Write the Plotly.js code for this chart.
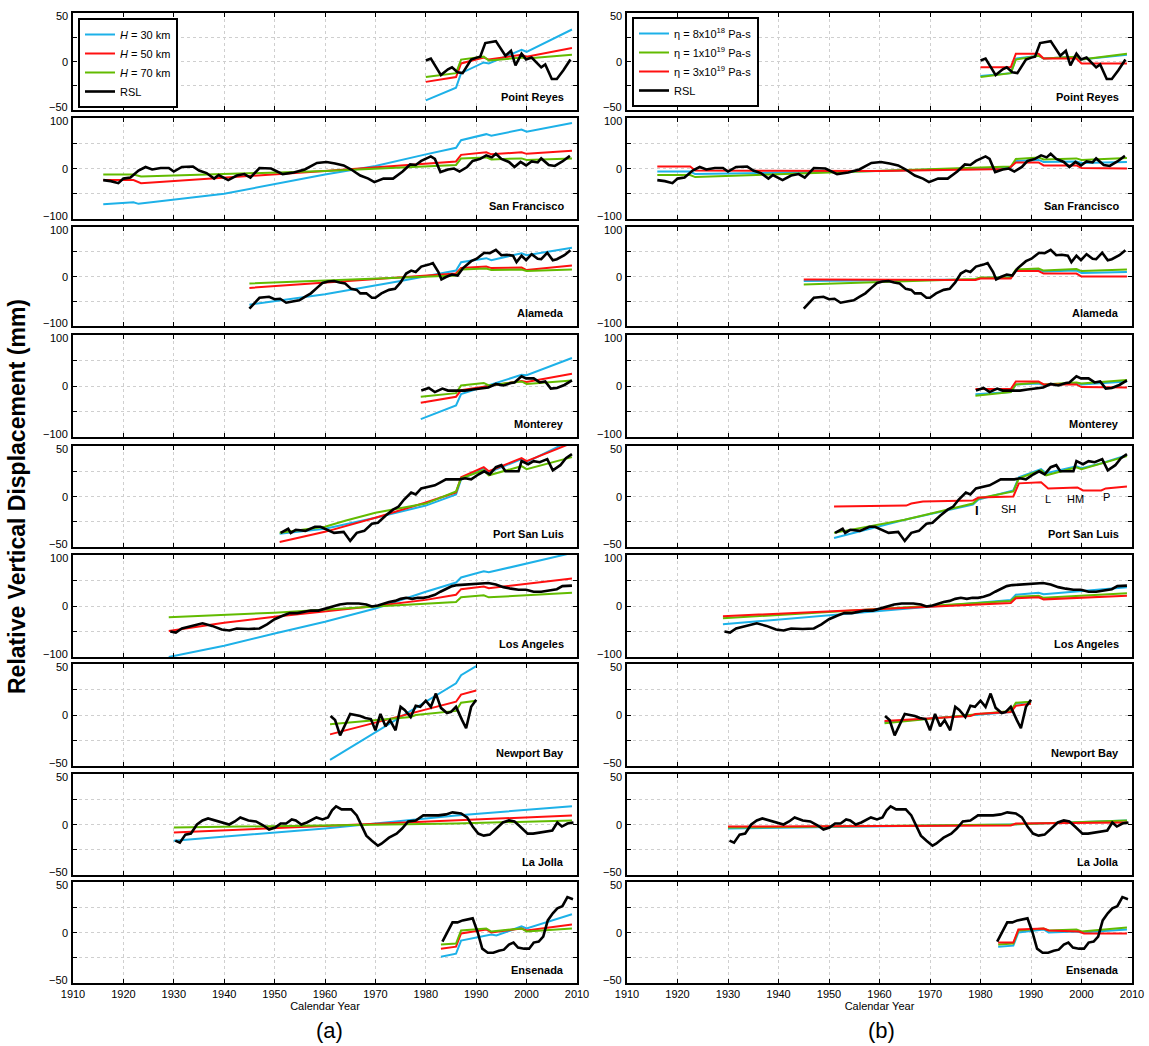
<!DOCTYPE html>
<html>
<head>
<meta charset="utf-8">
<script src="https://cdn.plot.ly/plotly-3.0.1.min.js"></script>
<style>html,body{margin:0;padding:0;background:#fff;}#chart{width:1149px;height:1046px;}</style>
</head>
<body>
<div id="chart"></div>
<script>
// ---------- DATA: [year, mm] ----------
const stationNames = ['Point Reyes','San Francisco','Alameda','Monterey','Port San Luis','Los Angeles','Newport Bay','La Jolla','Ensenada'];
const leftNames = ['<i>H</i> = 30 km','<i>H</i> = 50 km','<i>H</i> = 70 km','RSL'];
const rightNames = ['\u03b7 = 8x10<sup>18</sup> Pa-s','\u03b7 = 1x10<sup>19</sup> Pa-s','\u03b7 = 3x10<sup>19</sup> Pa-s','RSL'];
const yearTicks = [1910,1920,1930,1940,1950,1960,1970,1980,1990,2000,2010];

const PR_RSL = [[1980,1],[1981,3],[1983,-14],[1984.4,-8],[1985.2,-6],[1986.3,-11],[1987.3,-12],[1989,2],[1990.1,4],[1990.8,5],[1991.8,19],[1993.9,21],[1995.8,6],[1996.9,11],[1997.8,-4],[1999,8],[1999.9,2],[2001,4],[2002.9,-6],[2003.7,-3],[2005,-18],[2006,-18],[2007.3,-9],[2008.7,2]];
const PR_H30 = [[1980,-40],[1986,-27],[1987,-12],[1991.5,-1],[1992.5,-2],[1999,12],[2000,10],[2009,33]];
const PR_H50 = [[1980,-21],[1986,-16],[1987,-2],[1991.5,4],[1992.5,2],[1999,7],[2000,5],[2009,14]];
const PR_H70 = [[1980,-16],[1986,-12],[1987,2],[1991.5,5],[1992.5,1],[1999,4],[2000,3],[2009,7]];
const PR_E8 = [[1980,-15],[1986,-12],[1987,3],[1991.5,6],[1992.5,3],[1999,5],[2000,2],[2009,7]];
const PR_E1 = [[1980,-16],[1986,-12],[1987,2],[1991.5,6],[1992.5,3],[1999,5],[2000,2],[2009,8]];
const PR_E3 = [[1980,-6],[1986,-6],[1987,8],[1991.5,8],[1992.5,3],[1999,3],[2000,-2],[2009,-2]];

const SF_RSL = [[1916,-23],[1917.5,-25],[1919,-29],[1920,-20],[1921.4,-18],[1923,-4],[1924.4,3],[1925.7,-2],[1927.4,1],[1929,1],[1930,-6],[1931.6,3],[1933.8,4],[1935,-4],[1936.5,-9],[1938,-20],[1938.9,-13],[1940.8,-23],[1942.5,-14],[1944,-11],[1945.2,-18],[1947,1],[1949.3,0],[1951.6,-11],[1953.8,-8],[1956,-2],[1958.4,11],[1960.3,13],[1962,10],[1963.7,6],[1965.2,-2],[1967,-14],[1968.6,-20],[1969.8,-27],[1971.6,-20],[1973.5,-20],[1975.4,-6],[1976.9,8],[1978,7],[1979.1,15],[1981,24],[1981.8,19],[1982.9,-7],[1984.4,-2],[1985.6,0],[1986.7,-6],[1988.2,3],[1989.3,15],[1990.8,19],[1992,26],[1993.1,22],[1993.9,29],[1995,19],[1996.5,13],[1997.6,3],[1998.8,13],[1999.9,6],[2001,14],[2002.2,12],[2002.9,20],[2004.4,7],[2005.6,5],[2007.1,14],[2008.6,25]];
const SF_H30 = [[1916,-71],[1922,-67],[1923,-70],[1940,-50],[1960,-12],[1970,5],[1980,28],[1986,41],[1987,56],[1992,68],[1993,65],[1999,77],[2000,73],[2009,90]];
const SF_H50 = [[1916,-23],[1922,-23],[1923.5,-29],[1960,-5],[1986,14],[1987,27],[1992,32],[1993,28],[1999,32],[2000,29],[2009,35]];
const SF_H70 = [[1916,-12],[1922,-12],[1923.5,-16],[1960,-5],[1986,7],[1987,20],[1992,22],[1993,18],[1999,20],[2000,17],[2009,20]];
const SF_E8 = [[1916,-6],[1922.5,-6],[1923.5,-11],[1960,-5],[1986,2],[1987,15],[1991.5,17],[1992.5,13],[1999,14],[2000,11],[2009,13]];
const SF_E1 = [[1916,-13],[1922.5,-13],[1923.5,-17],[1960,-5],[1986,4],[1987,19],[1991.5,22],[1992.5,18],[1999,20],[2000,17],[2009,21]];
const SF_E3 = [[1916,4],[1922.5,4],[1923.5,-4],[1960,-5],[1985.5,-1],[1987,12],[1991.5,12],[1992.5,6],[1999,6],[2000,1],[2009,0]];

const AL_RSL = [[1945,-65],[1947,-43],[1948.9,-41],[1950,-46],[1951.1,-45],[1952.3,-53],[1953.8,-50],[1954.9,-48],[1956,-41],[1957.2,-34],[1958.4,-23],[1959.5,-13],[1960.6,-10],[1961.8,-9],[1962.9,-12],[1964,-14],[1965.2,-25],[1966.3,-27],[1967,-34],[1968.2,-34],[1969.3,-43],[1970,-43],[1971.2,-34],[1972.7,-27],[1973.9,-25],[1975,-12],[1976.1,6],[1977.1,12],[1978,9],[1979.1,20],[1980.6,24],[1981.4,27],[1982.5,9],[1983.1,-6],[1984,-1],[1985.2,4],[1986.3,2],[1987.4,17],[1989,31],[1990.1,36],[1991.6,48],[1992.7,47],[1993.9,54],[1995,43],[1996.1,44],[1997.3,42],[1998,29],[1999,42],[1999.9,33],[2001,45],[2002.2,36],[2002.9,35],[2004.1,48],[2005.2,33],[2006,35],[2007.5,43],[2008.7,53]];
const AL_H30 = [[1945,-57],[1960,-36],[1975,-9],[1986,12],[1987,29],[1992,37],[1993,33],[1999,47],[2000,43],[2009,58]];
const AL_H50 = [[1945,-23],[1986,6],[1987,17],[1992,20],[1993,17],[1999,18],[2000,13],[2009,22]];
const AL_H70 = [[1945,-14],[1986,2],[1987,14],[1992,16],[1993,13],[1999,14],[2000,11],[2009,14]];
const AL_E8 = [[1945,-9],[1979,-6],[1980,-3],[1986,-1],[1987,12],[1991.5,14],[1992.5,10],[1999,12],[2000,7],[2009,9]];
const AL_E1 = [[1945,-16],[1979,-5],[1980,-2],[1986,-2],[1987,14],[1991.5,16],[1992.5,12],[1999,15],[2000,11],[2009,14]];
const AL_E3 = [[1945,-6],[1979,-7],[1980,-4],[1986,-4],[1987,11],[1991.5,11],[1992.5,6],[1999,6],[2000,0],[2009,0]];

const MO_RSL = [[1979.1,-9],[1980.6,-4],[1981.8,-12],[1983.3,-5],[1984.4,-9],[1985.6,-9],[1986.7,-10],[1987.8,-9],[1989.3,-7],[1990.8,-5],[1992.4,-3],[1993.9,4],[1995.4,1],[1996.9,6],[1997.6,7],[1999,19],[1999.9,15],[2001.4,15],[2002.6,7],[2003.7,9],[2004.8,-5],[2006,-4],[2007.5,2],[2009,11]];
const MO_H30 = [[1979,-65],[1986,-38],[1987,-16],[1999,22],[2000,21],[2009,55]];
const MO_H50 = [[1979,-33],[1986,-21],[1987,-8],[1999,10],[2000,8],[2009,24]];
const MO_H70 = [[1979,-21],[1986,-14],[1987,1],[1991.5,6],[1992.5,1],[1999,9],[2000,4],[2009,11]];
const MO_E8 = [[1979,-16],[1986,-12],[1987,3],[1991.5,5],[1992.5,2],[1999,6],[2000,3],[2009,9]];
const MO_E1 = [[1979,-19],[1986,-12],[1987,3],[1991.5,7],[1992.5,3],[1999,7],[2000,5],[2009,12]];
const MO_E3 = [[1979,-6],[1986,-6],[1987,9],[1991.5,9],[1992.5,3],[1999,3],[2000,-2],[2009,-3]];

const PSL_RSL = [[1951.2,-36],[1952.7,-32],[1953.2,-36],[1954.2,-33],[1956.1,-34],[1958,-30],[1959.1,-30],[1960.3,-33],[1961.8,-36],[1963.7,-35],[1965,-44],[1966.3,-36],[1967.8,-34],[1969.3,-27],[1970.5,-26],[1972,-19],[1973.5,-13],[1974.6,-10],[1975.7,-3],[1977.1,4],[1978,2],[1979.1,8],[1980.3,9],[1981.8,11],[1982.9,14],[1984,17],[1985.6,17],[1986.7,17],[1987.8,18],[1989,17],[1990.5,22],[1991.6,25],[1992.7,22],[1993.9,29],[1995,31],[1995.8,25],[1997.3,25],[1998.4,25],[1999,35],[2000.3,32],[2001.4,35],[2002.6,34],[2004.1,37],[2005.2,26],[2006.7,31],[2007.8,38],[2009,42]];
const PSL_H30 = [[1951,-37],[1960,-32],[1970,-21],[1980,-9],[1986,2],[1987,17],[1991.5,28],[1992.5,24],[1999,37],[2000,34],[2009,56]];
const PSL_H50 = [[1951,-45],[1960,-35],[1970,-21],[1980,-6],[1986,4],[1987,19],[1991.5,29],[1992.5,25],[1999,38],[2000,35],[2009,53]];
const PSL_H70 = [[1951,-36],[1960,-30],[1964,-24],[1970,-16],[1980,-7],[1986,5],[1987,18],[1991.5,26],[1992.5,21],[1999,30],[2000,27],[2009,39]];
const PSL_E8 = [[1951,-41],[1965,-23],[1978.5,-8],[1979.6,-3],[1986.5,6],[1987.6,19],[1992,27],[1993,23],[1999,30],[2000,28],[2004,33],[2009,41]];
const PSL_E1 = [[1951,-36],[1965,-23],[1978.5,-7],[1979.6,-2],[1986.5,5],[1987.6,18],[1992,26],[1993,21],[1999,29],[2000,27],[2009,40]];
const PSL_E3 = [[1951,-10],[1965.3,-9],[1966.3,-7],[1968.6,-5],[1978.5,-4],[1979.6,-1],[1986.5,0],[1987.6,13],[1992,14],[1993.4,8],[1999.2,9],[2000.3,6],[2003.9,6],[2004.8,8],[2009,10]];

const LA_RSL = [[1929.3,-50],[1930.4,-52],[1931.6,-44],[1933.4,-39],[1935.7,-34],[1937.6,-39],[1939.5,-46],[1941,-48],[1942.5,-44],[1944.8,-45],[1947,-44],[1948.5,-36],[1950,-26],[1951.6,-19],[1953,-14],[1954.5,-14],[1956,-12],[1957.2,-9],[1958.7,-9],[1960.3,-5],[1961.8,-1],[1962.9,3],[1964.4,5],[1966.7,5],[1968.2,3],[1969.3,-1],[1970.5,1],[1971.6,5],[1972.7,8],[1973.9,10],[1975,14],[1976.1,16],[1977.3,14],[1978.4,16],[1979.5,16],[1980.6,18],[1981.8,22],[1982.9,28],[1984,34],[1985.2,39],[1986.3,41],[1987.8,42],[1989.3,43],[1990.8,45],[1992.4,45],[1993.9,42],[1995.4,37],[1996.9,34],[1998.4,32],[1999.9,32],[2001.4,28],[2002.9,28],[2004.4,30],[2006,33],[2007.1,39],[2009,40]];
const LA_H30 = [[1929,-100],[1940,-78],[1950,-54],[1960,-31],[1970,-5],[1980,28],[1986,46],[1987,56],[1991.5,68],[1992.5,66],[2009,104]];
const LA_H50 = [[1929,-49],[1940,-33],[1950,-21],[1960,-11],[1970,0],[1980,12],[1986,22],[1987,33],[1991.5,38],[1992.5,35],[2009,54]];
const LA_H70 = [[1929,-22],[1950,-13],[1970,-1],[1986,8],[1987,17],[1991.5,21],[1992.5,17],[2009,26]];
const LA_E8 = [[1929,-36],[1986,12],[1987,22],[1991.5,26],[1992.5,23],[2009,37]];
const LA_E1 = [[1929,-24],[1986,10],[1987,18],[1991.5,20],[1992.5,16],[2009,25]];
const LA_E3 = [[1929,-20],[1986,6],[1987,15],[1991.5,17],[1992.5,13],[2009,20]];

const NB_RSL = [[1961.1,-1],[1962,-5],[1963,-20],[1965,1],[1967,-1],[1968,-3],[1969.1,-4],[1970,-15],[1971,1],[1972,-11],[1972.9,-5],[1974,-15],[1975,8],[1975.8,5],[1977,-2],[1978,9],[1978.9,8],[1980,14],[1981,8],[1982,21],[1983,7],[1984.2,2],[1985,3],[1986,8],[1987.2,-5],[1988,-13],[1989,8],[1990,15]];
const NB_H30 = [[1961,-44],[1986,31],[1987,39],[1990,48]];
const NB_H50 = [[1961,-19],[1986,13],[1987,20],[1990,24]];
const NB_H70 = [[1961,-9],[1977,-2],[1978,0],[1986,4],[1987,12],[1990,14]];
const NB_E8 = [[1961,-7],[1986,3],[1987,11],[1990,13]];
const NB_E1 = [[1961,-8],[1986,4],[1987,12],[1990,13]];
const NB_E3 = [[1961,-6],[1978,-1],[1979,1],[1986,3],[1987,9],[1990,11]];

const LJ_RSL = [[1930.3,-16],[1931.2,-18],[1932.3,-10],[1933.4,-9],[1934.6,0],[1935.7,4],[1936.8,6],[1938.3,4],[1939.8,2],[1941,0],[1942.1,3],[1943.2,7],[1944.8,4],[1946.3,3],[1947.8,-1],[1948.9,-5],[1950.1,-3],[1951.2,1],[1952.3,1],[1953.4,5],[1954.2,4],[1955.3,0],[1956.4,2],[1958.3,7],[1959.5,5],[1960.6,7],[1961.4,14],[1962.2,18],[1963.3,15],[1965.2,15],[1966.3,9],[1967.1,0],[1968.2,-11],[1969.3,-16],[1970.5,-21],[1971.2,-19],[1972.7,-13],[1974.2,-9],[1975.3,-4],[1976.5,3],[1978,4],[1979.5,9],[1981,9],[1982.5,9],[1984,10],[1985.3,12],[1987,11],[1988.2,7],[1989.3,-2],[1990.4,-9],[1991.5,-11],[1992.7,-10],[1993.8,-5],[1995.3,2],[1996.5,4],[1997.6,3],[1998.7,-2],[2000.2,-9],[2001.3,-9],[2003.6,-7],[2005.1,-6],[2006.1,2],[2007,-2],[2008.1,1],[2009.3,2]];
const LJ_H30 = [[1930,-16],[1960,-4],[1986,9],[2009,18]];
const LJ_H50 = [[1930,-8],[1986,4],[2009,9]];
const LJ_H70 = [[1930,-3],[1986,1],[2009,4]];
const LJ_E8 = [[1930,-4],[1986,0],[2009,4]];
const LJ_E1 = [[1930,-3],[1986,0],[2009,4]];
const LJ_E3 = [[1930,-2],[1986,-1],[1987,1],[2009,2]];

const EN_RSL = [[1983.3,-9],[1985.3,10],[1986.3,10],[1987.3,12],[1989.3,14],[1990.3,0],[1991.2,-16],[1992.3,-20],[1993.4,-20],[1994.5,-18],[1995.5,-17],[1996.5,-12],[1997.4,-10],[1998.3,-15],[1999.5,-16],[2000.5,-16],[2001.4,-10],[2002.4,-9],[2003.3,-4],[2004.2,12],[2005.2,19],[2006.1,24],[2007.1,26],[2008.1,35],[2009.2,33]];
const EN_H30 = [[1983,-24],[1986,-21],[1987,-8],[1993,-2],[1994,-3],[1999,6],[2000,4],[2009,18]];
const EN_H50 = [[1983,-16],[1986,-14],[1987,-1],[1992,3],[1993,0],[1999,4],[2000,2],[2009,8]];
const EN_H70 = [[1983,-12],[1986,-11],[1987,2],[1992,4],[1993,1],[1999,4],[2000,1],[2009,4]];
const EN_E8 = [[1983.5,-14],[1986.5,-13],[1987.5,0],[1992.5,3],[1993.5,0],[1999,1],[2000,0],[2009,3]];
const EN_E1 = [[1983.5,-12],[1986.5,-11],[1987.5,2],[1992.5,4],[1993.5,2],[1999,3],[2000,1],[2009,5]];
const EN_E3 = [[1983.5,-10],[1986.5,-10],[1987.5,3],[1992.5,4],[1993.5,2],[1999.5,1],[2000.5,-1],[2009,-1]];

const eventLabels = ['I','SH','L','HM','P'];
const eventPos = [[1979.3,-14],[1985.5,-12],[1993.4,-2],[1998.8,-2],[2005,0]];

// ---------- BUILD ----------
const rsl = [PR_RSL,SF_RSL,AL_RSL,MO_RSL,PSL_RSL,LA_RSL,NB_RSL,LJ_RSL,EN_RSL];
const leftModels = [[PR_H30,PR_H50,PR_H70],[SF_H30,SF_H50,SF_H70],[AL_H30,AL_H50,AL_H70],[MO_H30,MO_H50,MO_H70],[PSL_H30,PSL_H50,PSL_H70],[LA_H30,LA_H50,LA_H70],[NB_H30,NB_H50,NB_H70],[LJ_H30,LJ_H50,LJ_H70],[EN_H30,EN_H50,EN_H70]];
const rightModels = [[PR_E8,PR_E1,PR_E3],[SF_E8,SF_E1,SF_E3],[AL_E8,AL_E1,AL_E3],[MO_E8,MO_E1,MO_E3],[PSL_E8,PSL_E1,PSL_E3],[LA_E8,LA_E1,LA_E3],[NB_E8,NB_E1,NB_E3],[LJ_E8,LJ_E1,LJ_E3],[EN_E8,EN_E1,EN_E3]];
const yMax = [50,100,100,100,50,100,50,50,50];

const W = 1149, H = 1046;
const tops = [13,118,227,335,446,555,664,774,882];
const bots = [110,219,326,437,547,657,766,875,983];
const colX = [[73,577],[627,1132]];
const CYAN = '#1db1e8', RED = '#ff1010', GREEN = '#62bb00', BLACK = '#000000';
const leftColors = [CYAN, RED, GREEN];
const rightColors = [CYAN, GREEN, RED];
const FONT = 'Liberation Sans, Arial, Helvetica, sans-serif';

const traces = [];
const legendBase = {xanchor:'left', yanchor:'top', bgcolor:'#fff', bordercolor:'#000', borderwidth:2,
  font:{family:FONT,size:11,color:'#000'}, itemwidth:30, tracegroupgap:0};
const layout = {
  width: W, height: H,
  margin: {l:0, r:0, t:0, b:0},
  paper_bgcolor: '#ffffff', plot_bgcolor: '#ffffff',
  font: {family: FONT, size: 11, color: '#000'},
  showlegend: true,
  legend: Object.assign({x: 78/W, y: 1-18/H}, legendBase),
  legend2: Object.assign({x: 632/W, y: 1-17/H}, legendBase),
  annotations: []
};

for (let r = 0; r < 9; r++) {
  for (let c = 0; c < 2; c++) {
    const idx = r*2 + c + 1;
    const xa = 'x' + idx, ya = 'y' + idx;
    const models = c === 0 ? leftModels[r] : rightModels[r];
    const colors = c === 0 ? leftColors : rightColors;
    const names = c === 0 ? leftNames : rightNames;
    const series = models.concat([rsl[r]]);
    series.forEach((s, k) => {
      traces.push({
        type: 'scatter', mode: 'lines',
        x: s.map(p => p[0]), y: s.map(p => p[1]),
        xaxis: xa, yaxis: ya,
        name: names[k],
        legend: c === 0 ? 'legend' : 'legend2',
        showlegend: r === 0,
        line: {color: k < 3 ? colors[k] : BLACK, width: k < 3 ? 2 : 2.6},
        hoverinfo: 'skip'
      });
    });
    const R = yMax[r];
    const axKey = idx === 1 ? '' : String(idx);
    const xaxis = {
      domain: [colX[c][0]/W, colX[c][1]/W],
      anchor: ya, range: [1910, 2010],
      tickvals: yearTicks, ticktext: yearTicks.map(String),
      showticklabels: r === 8,
      ticks: 'inside', ticklen: 4, tickwidth: 1, tickcolor: '#000',
      showline: true, linecolor: '#000', linewidth: 2, mirror: 'ticks',
      showgrid: true, gridcolor: '#cfcfcf', griddash: 'dot', gridwidth: 1,
      zeroline: false, fixedrange: true,
      tickfont: {family: FONT, size: 11, color: '#000'}
    };
    if (r === 8) xaxis.title = {text: 'Calendar Year', font: {family: FONT, size: 11, color: '#000'}, standoff: 1};
    layout['xaxis' + axKey] = xaxis;
    layout['yaxis' + axKey] = {
      domain: [1 - bots[r]/H, 1 - tops[r]/H],
      anchor: xa, range: [-R, R],
      tickvals: [-R, -R/2, 0, R/2, R],
      showticklabels: false,
      ticks: 'inside', ticklen: 4, tickwidth: 1, tickcolor: '#000',
      showline: true, linecolor: '#000', linewidth: 2, mirror: 'ticks',
      showgrid: true, gridcolor: '#cfcfcf', griddash: 'dot', gridwidth: 1,
      zeroline: false, fixedrange: true
    };
    // y tick labels (top/bottom nudged inward like the reference)
    [[R, String(R), -3], [0, '0', 0], [-R, '\u2212' + R, 3]].forEach(([v, t, sh]) => {
      layout.annotations.push({
        xref: xa + ' domain', yref: ya, x: 0, y: v, xanchor: 'right', yanchor: 'middle',
        xshift: -3, yshift: sh, showarrow: false, text: t,
        font: {family: FONT, size: 11, color: '#000'}
      });
    });
    layout.annotations.push({
      xref: xa + ' domain', yref: ya + ' domain', x: 0.978, y: 0.05,
      xanchor: 'right', yanchor: 'bottom', showarrow: false,
      text: '<b>' + stationNames[r] + '</b>',
      font: {family: FONT, size: 11, color: '#000'}
    });
  }
}

// event labels (Port San Luis, right column)
eventLabels.forEach((t, i) => {
  layout.annotations.push({
    xref: 'x10', yref: 'y10', x: eventPos[i][0], y: eventPos[i][1],
    xanchor: 'center', yanchor: 'middle',
    showarrow: false, text: t === 'I' ? '<b>I</b>' : t,
    font: {family: FONT, size: t === 'I' ? 13 : 11, color: '#000'}
  });
});

// figure-level text
layout.annotations.push({
  xref: 'paper', yref: 'paper', x: 17/W, y: 1 - 497/H, xanchor: 'center', yanchor: 'middle', textangle: -90,
  showarrow: false, text: '<b>Relative Vertical Displacement (mm)</b>',
  font: {family: FONT, size: 23, color: '#000'}
});
layout.annotations.push({
  xref: 'paper', yref: 'paper', x: 329/W, y: 1 - 1030/H, xanchor: 'center', yanchor: 'middle', showarrow: false,
  text: '(a)', font: {family: FONT, size: 22, color: '#000'}
});
layout.annotations.push({
  xref: 'paper', yref: 'paper', x: 882/W, y: 1 - 1030/H, xanchor: 'center', yanchor: 'middle', showarrow: false,
  text: '(b)', font: {family: FONT, size: 22, color: '#000'}
});

Plotly.newPlot('chart', traces, layout, {staticPlot: true, displayModeBar: false});
</script>
</body>
</html>
